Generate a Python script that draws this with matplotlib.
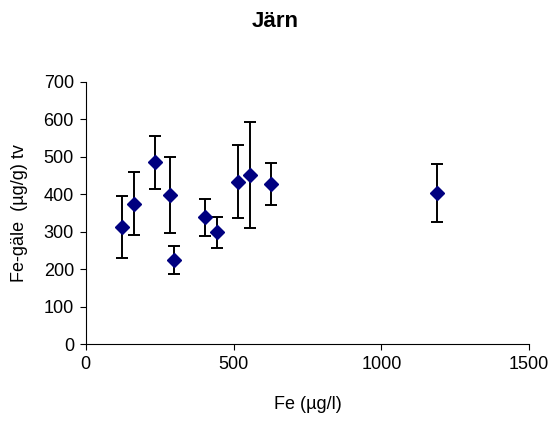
import matplotlib
matplotlib.use("Agg")
import matplotlib.pyplot as plt

plt.rcParams['font.family'] = ['Liberation Sans', 'DejaVu Sans']

# Fe in water (ug/l) vs Fe in gills (ug/g dw)
fe_water = [124, 163, 233, 284, 298, 405, 445, 516, 554, 627, 1187]
fe_gill = [314, 375, 485, 397, 225, 339, 299, 434, 451, 427, 403]
err_low = [85, 83, 70, 99, 38, 49, 41, 98, 142, 56, 78]
err_high = [82, 83, 70, 102, 37, 49, 41, 97, 142, 56, 78]

fig = plt.figure(figsize=(5.5, 4.21), dpi=100)
ax = fig.add_axes([0.156, 0.182, 0.806, 0.624])

ax.errorbar(fe_water, fe_gill, yerr=[err_low, err_high], fmt='D', color='#000080',
            ms=7, ecolor='black', elinewidth=1.4, capsize=4, capthick=1.4)

ax.set_xlim(0, 1500)
ax.set_ylim(0, 700)
ax.set_xticks([0, 500, 1000, 1500])
ax.set_yticks(range(0, 701, 100))
ax.spines['top'].set_visible(False)
ax.spines['right'].set_visible(False)
ax.tick_params(labelsize=13, length=4.5, width=0.8, pad=4)

ax.set_xlabel('Fe (µg/l)', fontsize=13)
ax.set_ylabel('Fe-gäle  (µg/g) tv', fontsize=13)
ax.xaxis.set_label_coords(0.5, -0.195)
ax.yaxis.set_label_coords(-0.131, 0.5)
fig.text(0.5, 0.948, 'Järn', ha='center', va='center', fontsize=16, fontweight='bold')

fig.savefig('out.png', dpi=100)
